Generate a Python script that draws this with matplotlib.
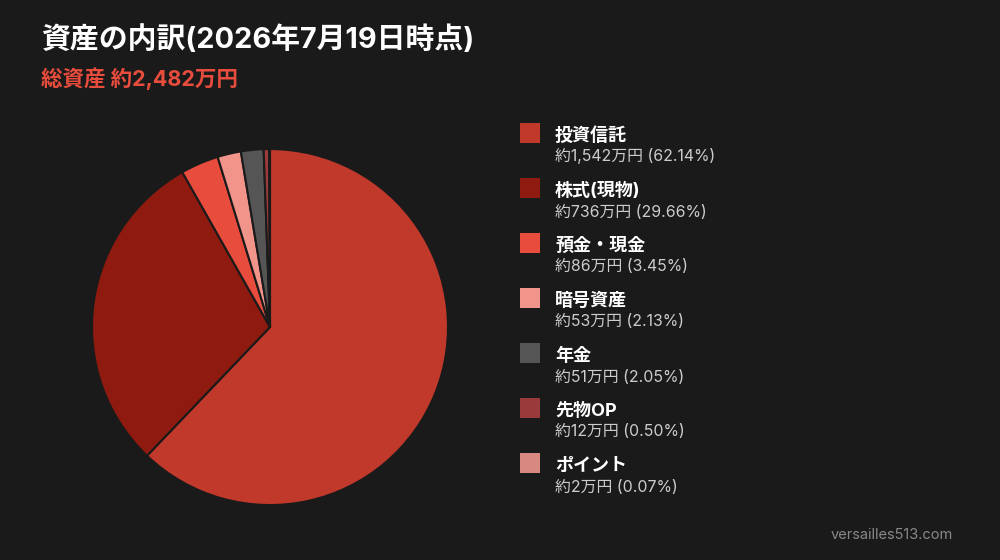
import matplotlib
matplotlib.use("Agg")
import matplotlib.pyplot as plt
from matplotlib.patches import Rectangle

plt.rcParams['font.family'] = ['Inter', 'Noto Sans CJK JP', 'DejaVu Sans']

title = "資産の内訳(2026年7月19日時点)"
subtitle = "総資産 約2,482万円"
categories = ["投資信託", "株式(現物)", "預金・現金", "暗号資産", "年金", "先物OP", "ポイント"]
values_man = [1542, 736, 86, 53, 51, 12, 2]
percents = [62.14, 29.66, 3.45, 2.13, 2.05, 0.50, 0.07]
colors = ["#c0392b", "#8e1a10", "#e74c3c", "#f1948a", "#555555", "#9b3a3a", "#d98880"]
watermark = "versailles513.com"

BG = "#1a1a1a"
H = 560.0
fig = plt.figure(figsize=(10, 5.6), dpi=100, facecolor=BG)

fig.text(0.041, 1 - 48 / H, title, color="white", fontsize=20.8, fontweight="bold", va="baseline", ha="left")
fig.text(0.041, 1 - 86 / H, subtitle, color="#e74c3c", fontsize=15.5, fontweight="bold", va="baseline", ha="left")

ax = fig.add_axes([0.092, 0.098, 0.356, 0.636])
ax.set_facecolor(BG)
ax.pie(percents, colors=colors, startangle=90, counterclock=False,
       wedgeprops=dict(edgecolor=BG, linewidth=1.5))
ax.set_aspect("equal")
ax.set_xlim(-1.0, 1.0)
ax.set_ylim(-1.0, 1.0)
ax.axis("off")

y0 = 133
step = 55
for i, (cat, v, p, c) in enumerate(zip(categories, values_man, percents, colors)):
    yc = y0 + i * step
    fig.patches.append(Rectangle((520 / 1000, 1 - (yc + 10) / H), 20 / 1000, 20 / H,
                                 transform=fig.transFigure, facecolor=c, edgecolor="none"))
    fig.text(555 / 1000, 1 - (yc + 8) / H, cat, color="white", fontsize=13,
             fontweight="bold", va="baseline", ha="left")
    fig.text(555 / 1000, 1 - (yc + 28.5) / H, f"約{v:,}万円 ({p:.2f}%)", color="#cccccc",
             fontsize=11.4, va="baseline", ha="left")

fig.text(953 / 1000, 1 - 535 / H, watermark, color="#888888", fontsize=10.5, va="center", ha="right")

fig.savefig("out.png", dpi=100, facecolor=BG)
